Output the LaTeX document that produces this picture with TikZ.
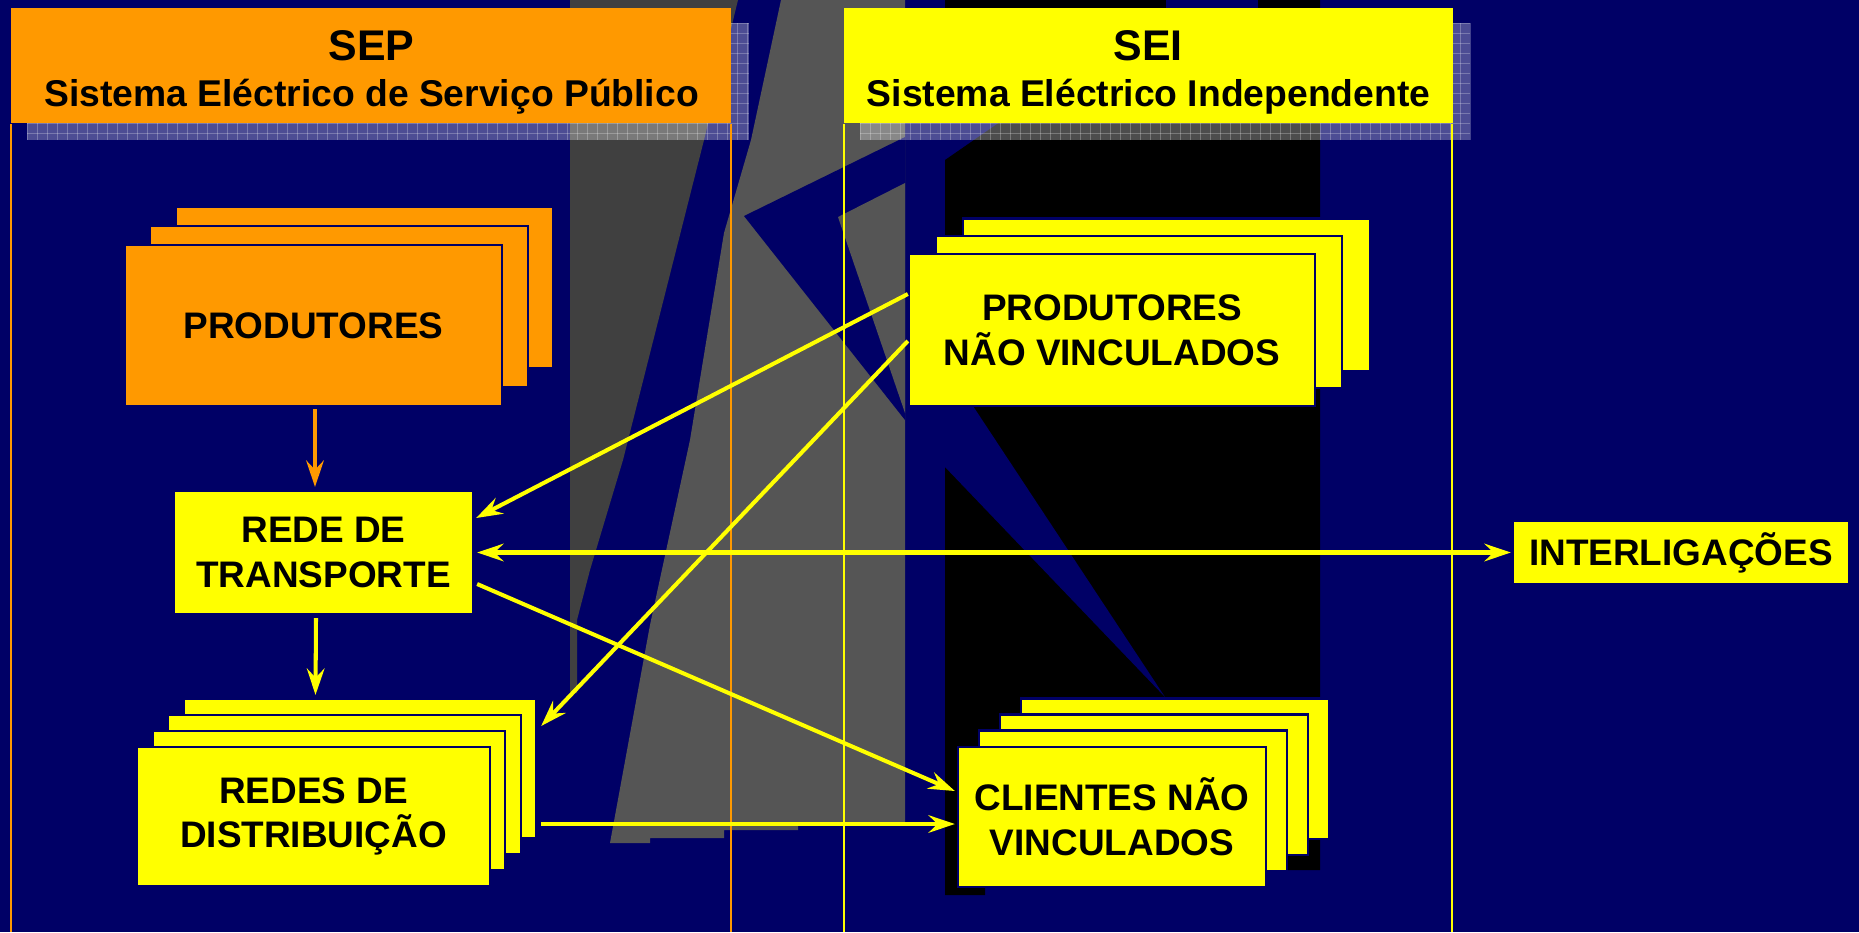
\documentclass[tikz,border=0pt]{standalone}
\usepackage{fontspec}
\setmainfont{Liberation Sans}
\usetikzlibrary{arrows.meta,calc}
\definecolor{navybg}{RGB}{0,0,102}
\definecolor{org}{RGB}{255,153,0}
\definecolor{ylw}{RGB}{255,255,0}
\definecolor{dgray}{RGB}{64,64,64}
\definecolor{lgray}{RGB}{85,85,85}
\tikzset{
  sheet/.style={rectangle, draw=navybg, line width=0.6pt, inner sep=0pt, anchor=center},
  ysheet/.style={sheet, fill=ylw},
  osheet/.style={sheet, fill=org},
  lbl/.style={font=\bfseries\fontsize{10.5}{12.7}\selectfont, align=center, text=black},
  prodsz/.style={minimum width=3.77cm, minimum height=1.61cm},
  redesz/.style={minimum width=2.99cm, minimum height=1.23cm},
  distsz/.style={minimum width=3.52cm, minimum height=1.39cm},
  pnvsz/.style={minimum width=4.06cm, minimum height=1.52cm},
  clisz/.style={minimum width=3.08cm, minimum height=1.40cm},
  intsz/.style={minimum width=3.36cm, minimum height=0.63cm},
  hdr/.style={rectangle, inner sep=0pt, minimum height=1.15cm},
  htitle/.style={font=\bfseries\fontsize{12.2}{14}\selectfont, inner sep=0pt, anchor=base},
  hsub/.style={font=\bfseries\fontsize{10.6}{12}\selectfont, inner sep=0pt, anchor=base},
  shadowbox/.style={fill=white, fill opacity=0.3},
  gridln/.style={draw=white, opacity=0.25, line width=0.25pt},
  sepline/.style={draw=org, line width=0.65pt},
  seiline/.style={draw=ylw, line width=0.65pt},
  yarr/.style={draw=ylw, line width=1.15pt, -{Stealth[length=7.5pt,width=5pt,inset=2.6pt]}},
  ydarr/.style={draw=ylw, line width=1.15pt, {Stealth[length=7.5pt,width=5pt,inset=2.6pt]}-{Stealth[length=7.5pt,width=5pt,inset=2.6pt]}},
  oarr/.style={draw=org, line width=1.2pt, -{Stealth[length=7.5pt,width=5pt,inset=2.6pt]}},
}
\begin{document}
\begin{tikzpicture}[x=0.01cm,y=-0.01cm]
\useasboundingbox (0,0) rectangle (1859,932);
\fill[navybg] (0,0) rectangle (1859,932);
\coordinate (bot) at (0,932);

% decorative background graphic
\fill[dgray] (570,0) -- (738,0) -- (704,140) -- (623,460) -- (590,570) -- (577,620) -- (577,693) -- (570,693) -- cycle;
\fill[lgray] (781,0) -- (905,0) -- (905,822) -- (798,822) -- (798,830) -- (724,830) -- (724,838) -- (650,838) -- (650,843) -- (610,843) -- (650,625) -- (690,440) -- (724,233) -- (751,140) -- cycle;
\fill[navybg] (744,216) -- (905,137) -- (905,420) -- cycle;
\fill[lgray] (838,217) -- (905,183) -- (905,413) -- cycle;
\fill[black] (945,160) -- (1000,122) -- (1000,0) -- (1320,0) -- (1320,870) -- (985,870) -- (985,895) -- (945,895) -- cycle;
\fill[black] (945,0) rectangle (1000,10);
\fill[navybg] (1166,0) rectangle (1258,8);
\fill[navybg] (945,406) -- (973,406) -- (1165,697) -- (945,467) -- cycle;

% header shadows
\fill[shadowbox] (27,23) rectangle (749,140);
\foreach \gx in {27,37,...,747} \draw[gridln] (\gx,23) -- (\gx,140);
\foreach \gy in {23,33,...,140} \draw[gridln] (27,\gy) -- (749,\gy);
\fill[shadowbox] (860,23) rectangle (1470,140);
\foreach \gx in {860,870,...,1470} \draw[gridln] (\gx,23) -- (\gx,140);
\foreach \gy in {23,33,...,140} \draw[gridln] (860,\gy) -- (1470,\gy);

% headers
\node[hdr, fill=org, minimum width=7.2cm] (sep) at (371,65.5) {};
\node[htitle] (sepT) at (371.5,60) {SEP};
\node[hsub] (sepS) at (371.5,106) {Sistema Eléctrico de Serviço Público};
\node[hdr, fill=ylw, minimum width=6.09cm] (sei) at (1148.5,65.5) {};
\node[htitle] (seiT) at (1148,60) {SEI};
\node[hsub] (seiS) at (1148.5,106) {Sistema Eléctrico Independente};

% region boundary lines
\draw[sepline] ([xshift=0.3pt]sep.south west) -- ([xshift=0.3pt]sep.south west |- bot);
\draw[sepline] ([xshift=-0.3pt]sep.south east) -- ([xshift=-0.3pt]sep.south east |- bot);
\draw[seiline] ([xshift=0.3pt]sei.south west) -- ([xshift=0.3pt]sei.south west |- bot);
\draw[seiline] ([xshift=-0.5pt]sei.south east) -- ([xshift=-0.5pt]sei.south east |- bot);

% PRODUTORES stack
\node[osheet, prodsz] (prod3) at (364.5,287.5) {};
\node[osheet, prodsz] (prod2) at (339,306.5) {};
\node[osheet, prodsz, lbl] (prod1) at (313.5,325.5) {PRODUTORES};

% REDE DE TRANSPORTE
\node[ysheet, redesz, lbl] (rede) at (323.5,552.5) {REDE DE\\TRANSPORTE};

% REDES DE DISTRIBUICAO stack
\node[ysheet, distsz] (dist4) at (360,768.5) {};
\node[ysheet, distsz] (dist3) at (344.5,784.5) {};
\node[ysheet, distsz] (dist2) at (329,800.5) {};
\node[ysheet, distsz, lbl] (dist1) at (313.5,816.5) {REDES DE\\DISTRIBUIÇÃO};

% PRODUTORES NAO VINCULADOS stack
\node[ysheet, pnvsz] (pnv3) at (1166.5,294.5) {};
\node[ysheet, pnvsz] (pnv2) at (1139,312) {};
\node[ysheet, pnvsz, lbl] (pnv1) at (1112,330) {PRODUTORES\\NÃO VINCULADOS};

% CLIENTES NAO VINCULADOS stack
\node[ysheet, clisz] (cli4) at (1175,768.5) {};
\node[ysheet, clisz] (cli3) at (1154,784.5) {};
\node[ysheet, clisz] (cli2) at (1133,800.5) {};
\node[ysheet, clisz, lbl] (cli1) at (1112,817) {CLIENTES NÃO\\VINCULADOS};

% INTERLIGACOES
\node[ysheet, intsz, lbl] (inter) at (1681,552.5) {INTERLIGAÇÕES};

% connectors
\draw[oarr] ($(prod1.south)+(1.5,2)$) -- ($(rede.north)+(-8.5,-3)$);
\draw[yarr] ($(rede.south)+(-7.5,3)$) -- ($(dist4.north)+(-44.5,-3)$);
\draw[yarr] ($(pnv1.west)+(0,-36)$) -- ($(rede.east)+(2,-34.5)$);
\draw[yarr] ($(pnv1.west)+(0,11)$) -- ($(dist4.east)+(4,-42.5)$);
\draw[yarr] ($(rede.east)+(3,31.5)$) -- ($(cli1.west)+(-2,-26)$);
\draw[ydarr] ($(rede.east)+(3,0)$) -- ($(inter.west)+(-1,0)$);
\draw[yarr] ($(dist4.east)+(4,55.5)$) -- ($(cli1.west)+(-2,7)$);
\end{tikzpicture}
\end{document}
